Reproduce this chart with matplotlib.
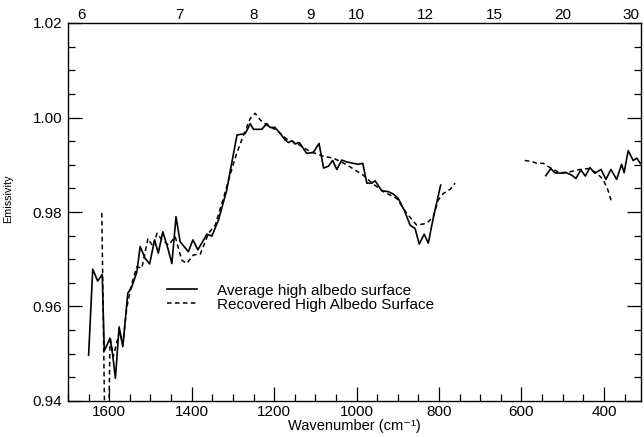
import matplotlib
matplotlib.use("Agg")
import matplotlib.pyplot as plt
from matplotlib.ticker import MultipleLocator, FixedLocator

plt.rcParams['font.family'] = ['Liberation Sans', 'DejaVu Sans']

# Average high albedo surface (solid), two segments
avg_wn_a = [1650, 1640, 1628, 1617, 1612, 1598, 1592, 1585, 1576, 1567, 1555, 1545, 1533,
            1525, 1513, 1502, 1490, 1481, 1470, 1459, 1448, 1438, 1428, 1408, 1397, 1385,
            1363, 1351, 1335, 1315, 1303, 1290, 1270, 1258, 1250, 1230, 1218, 1210, 1198,
            1185, 1173, 1165, 1157, 1149, 1139, 1121, 1105, 1091, 1080, 1068, 1058, 1048,
            1036, 1024, 1008, 996, 985, 975, 963, 955, 939, 923, 911, 899, 883, 870, 858,
            848, 836, 826, 814, 796]
avg_em_a = [0.9497, 0.9679, 0.9654, 0.9668, 0.9506, 0.9533, 0.9500, 0.9448, 0.9557, 0.9515,
            0.9628, 0.9642, 0.9673, 0.9727, 0.9702, 0.9690, 0.9741, 0.9713, 0.9758, 0.9727,
            0.9691, 0.9790, 0.9737, 0.9716, 0.9741, 0.9720, 0.9753, 0.9749, 0.9783, 0.9846,
            0.9903, 0.9963, 0.9966, 0.9987, 0.9975, 0.9975, 0.9987, 0.9979, 0.9979, 0.9966,
            0.9952, 0.9947, 0.9951, 0.9944, 0.9947, 0.9924, 0.9926, 0.9945, 0.9893, 0.9897,
            0.9909, 0.9890, 0.9910, 0.9906, 0.9903, 0.9901, 0.9903, 0.9861, 0.9861, 0.9866,
            0.9845, 0.9843, 0.9838, 0.9829, 0.9801, 0.9772, 0.9765, 0.9732, 0.9753, 0.9734,
            0.9787, 0.9857]
avg_wn_b = [541, 529, 519, 507, 491, 478, 468, 456, 445, 434, 422, 407, 395, 383, 369, 357,
            351, 341, 329, 320, 312, 305]
avg_em_b = [0.9877, 0.9892, 0.9883, 0.9882, 0.9883, 0.9878, 0.9871, 0.9889, 0.9876, 0.9894,
            0.9882, 0.9890, 0.9869, 0.9890, 0.9869, 0.9901, 0.9883, 0.9930, 0.9909, 0.9914,
            0.9903, 0.9905]

# Recovered High Albedo Surface (dashed), two segments
rec_wn_a = [1618, 1610, 1602, 1598, 1590, 1575, 1567, 1557, 1545, 1533, 1521, 1506, 1494,
            1484, 1472, 1456, 1440, 1424, 1412, 1396, 1379, 1359, 1343, 1323, 1307, 1291,
            1274, 1258, 1246, 1234, 1218, 1194, 1169, 1145, 1113, 1080, 1056, 1024, 984,
            959, 935, 903, 878, 854, 830, 814, 802, 790, 773, 761]
rec_em_a = [0.9798, 0.9300, 0.9300, 0.9536, 0.9494, 0.9547, 0.9520, 0.9600, 0.9649, 0.9684,
            0.9681, 0.9744, 0.9727, 0.9755, 0.9741, 0.9730, 0.9748, 0.9698, 0.9691, 0.9709,
            0.9711, 0.9755, 0.9772, 0.9829, 0.9878, 0.9924, 0.9963, 0.9998, 1.0009, 0.9995,
            0.9984, 0.9973, 0.9954, 0.9945, 0.9928, 0.9918, 0.9914, 0.9900, 0.9878, 0.9859,
            0.9843, 0.9829, 0.9797, 0.9772, 0.9776, 0.9790, 0.9825, 0.9839, 0.9848, 0.9861]
rec_wn_b = [592, 575, 563, 547, 527, 507, 483, 458, 438, 418, 402, 390, 382]
rec_em_b = [0.9909, 0.9907, 0.9903, 0.9903, 0.9892, 0.9883, 0.9885, 0.9890, 0.9892, 0.9883,
            0.9869, 0.9846, 0.9823]

top_labels_um = [6, 7, 8, 9, 10, 12, 15, 20, 30]

fig = plt.figure(figsize=(6.44, 4.37), dpi=100)
ax = fig.add_axes([68/644, 36/437, 573/644, 378/437])

solid_kw = dict(color='black', lw=1.2)
dash_kw = dict(color='black', lw=1.1, ls=(0, (3, 2.2)))
ax.plot(avg_wn_a, avg_em_a, label='Average high albedo surface', **solid_kw)
ax.plot(avg_wn_b, avg_em_b, **solid_kw)
ax.plot(rec_wn_a, rec_em_a, label='Recovered High Albedo Surface', **dash_kw)
ax.plot(rec_wn_b, rec_em_b, **dash_kw)

ax.set_xlim(1700, 310)
ax.set_ylim(0.94, 1.02)
ax.xaxis.set_major_locator(MultipleLocator(200))
ax.xaxis.set_minor_locator(MultipleLocator(50))
ax.yaxis.set_major_locator(MultipleLocator(0.02))
ax.yaxis.set_minor_locator(MultipleLocator(0.005))
ax.yaxis.set_major_formatter(matplotlib.ticker.FormatStrFormatter('%.2f'))
ax.tick_params(which='both', direction='in', top=True, right=True, width=0.9,
               labelsize=11, pad=3)
ax.tick_params(axis='y', pad=4)
ax.tick_params(which='major', length=10)
ax.tick_params(which='minor', length=5)
for s in ax.spines.values():
    s.set_linewidth(1.0)

ax.set_xlabel('Wavenumber (cm\u207b\u00b9)', fontsize=10.5, labelpad=0)
ax.set_ylabel('Emissivity', fontsize=7.8)
ax.yaxis.set_label_coords(-0.096, 0.535)

# top wavelength labels (no ticks of their own)
axt = ax.twiny()
axt.set_xlim(ax.get_xlim())
axt.xaxis.set_major_locator(FixedLocator([10000.0 / u for u in top_labels_um]))
axt.set_xticklabels([str(u) for u in top_labels_um])
axt.xaxis.set_minor_locator(matplotlib.ticker.NullLocator())
axt.tick_params(axis='x', length=0, labelsize=11, pad=1)
for s in axt.spines.values():
    s.set_visible(False)

leg = ax.legend(loc='upper left', bbox_to_anchor=(0.173, 0.31), frameon=False,
                fontsize=11, handlelength=1.96, handletextpad=1.31, labelspacing=0.0,
                borderpad=0, borderaxespad=0)

fig.savefig('out.png', dpi=100)
